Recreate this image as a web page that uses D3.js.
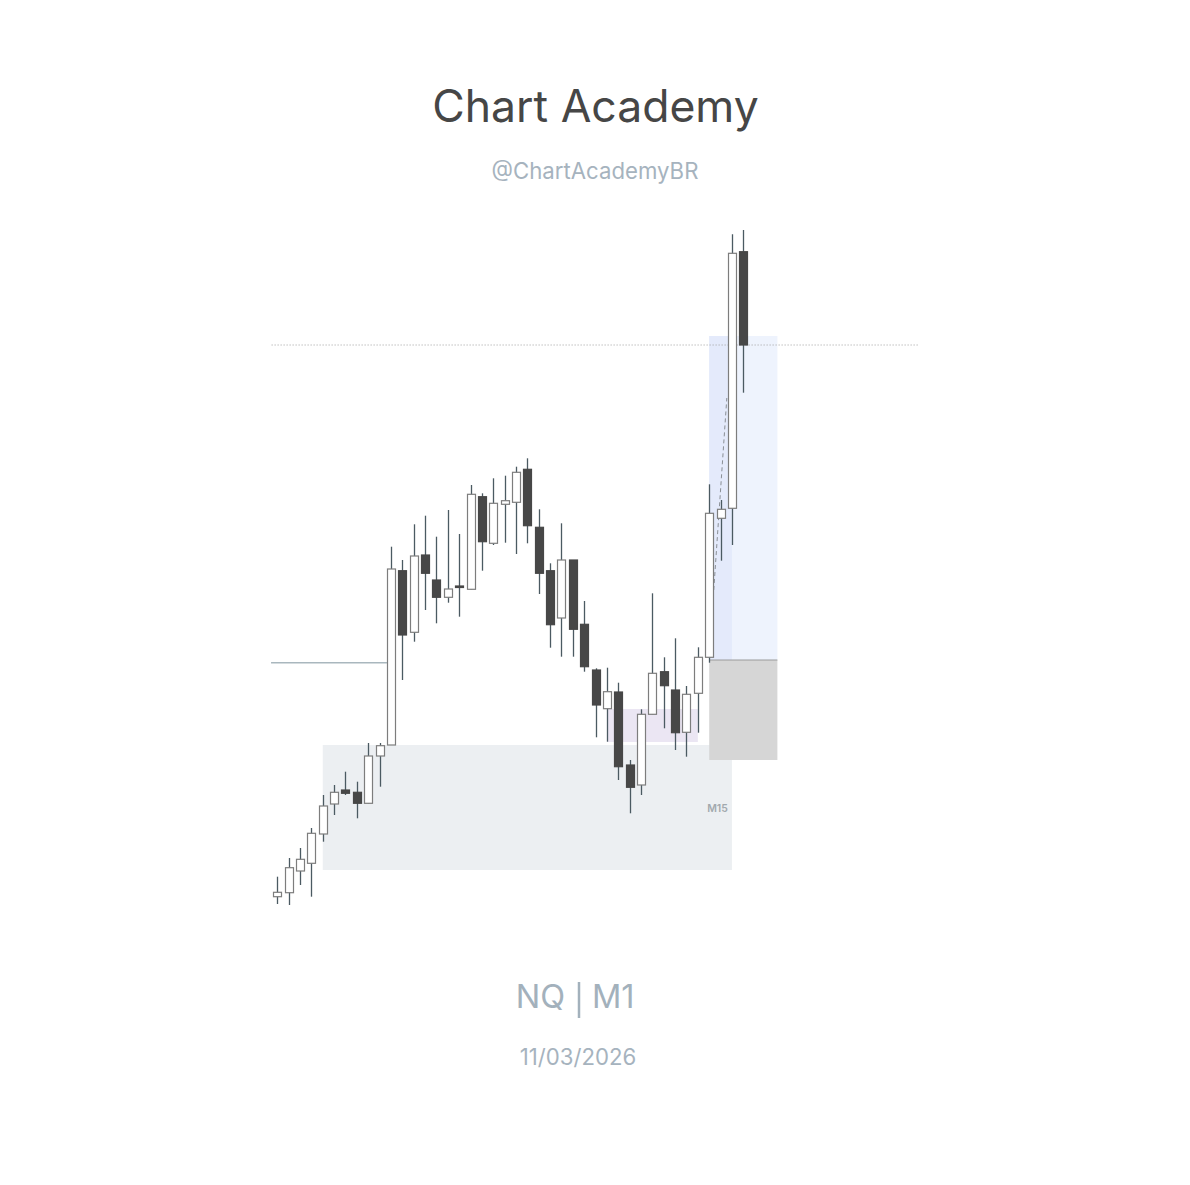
<!DOCTYPE html>
<html>
<head>
<meta charset="utf-8">
<script src="https://cdn.jsdelivr.net/npm/d3@7"></script>
<style>
  html, body { margin: 0; padding: 0; background: #ffffff; }
  svg { display: block; }
</style>
</head>
<body>
<svg id="chart" width="1190" height="1185"></svg>
<script>
// ---- DATA (price units, arbitrary scale) ----
const candleOpen  = [13.3,17.3,39,46.7,76,106,120,117.7,106.7,154,165,339.3,277.7,355,330,312.7,324,320.7,413.3,366.7,405.7,407.7,440.7,382.7,339.3,292,350,285.7,240,201.3,218,145,125,195.7,238.3,220,177.7,216.7,252.7,391.7,401.7,658.3];
const candleClose = [17.7,42.3,50.7,76.7,104,117.7,116.7,106.7,154,164.3,341,275,354,336.7,312.7,321,322.7,415.7,368.3,406.7,409.3,437.7,384.3,336.7,285.3,350,280.7,243.3,205,218.3,143.3,122.7,195.7,236.7,224.3,177.3,215.7,252.7,396.7,400.7,656.7,565];
const candleHigh  = [33.3,52,62,82,115,125,138.3,128.3,167,167,363.3,350,385.7,394.3,373.3,400,376,425,416.7,431.7,434.3,443.3,451.7,400.7,346.7,386.7,350,309,241.7,242.3,227.3,150,200.7,316.7,252.7,271.7,224,262.7,425.7,410,675.7,680];
const candleLow   = [6,5,25,13.3,68.3,95,115,91.7,106.7,123.3,165,230,268.3,300,286.7,307.3,293.3,320.7,339.3,365,367.3,356,366.7,316,262.3,253.3,253.3,238.3,172.7,168.3,130,96.7,115,195.7,181.7,160,153.3,177.3,247.3,349.3,365,517.3];

// zones: [fromIndex, toIndex, lowPrice, highPrice]
const zoneM15    = [4, 40, 40, 165];
const zonePurple = [29, 37, 168, 201];
const zoneBlue   = [38, 44, 250, 574];
const zoneBlueIn = [38, 40, 250, 574];
const zoneGrey   = [38, 44, 150, 250];
const dottedLevel = 565;
const solidLevel  = 247.3;
const dashedLine  = [[38.4, 320], [39.55, 512]];

const titleText = "Chart Academy";
const handleText = "@ChartAcademyBR";
const symbolText = "NQ";
const tfText = "M1";
const dateText = "11/03/2026";
const zoneLabel = "M15";

// ---- DRAW ----
const svg = d3.select("#chart");
const n = candleOpen.length;
const x = d3.scaleLinear().domain([0, n - 1]).range([277.3, 743.3]);
const y = d3.scaleLinear().domain([0, 700]).range([910, 210]);
const bodyW = 8;
const FONT = "Inter, 'Noto Sans', sans-serif";

function rectZone(z, fill) {
  svg.append("rect")
    .attr("x", x(z[0])).attr("y", y(z[3]))
    .attr("width", x(z[1]) - x(z[0]))
    .attr("height", y(z[2]) - y(z[3]))
    .attr("fill", fill);
}
rectZone(zoneM15, "#eceff2");
rectZone(zonePurple, "#ebe6f3");
rectZone(zoneBlue, "#eef3fd");
rectZone(zoneBlueIn, "#e4eafb");
rectZone(zoneGrey, "#d6d6d6");
svg.append("line")
  .attr("x1", x(zoneGrey[0])).attr("x2", x(zoneGrey[1]))
  .attr("y1", y(zoneGrey[3])).attr("y2", y(zoneGrey[3]))
  .attr("stroke", "#9a9a9a").attr("stroke-width", 1);

svg.append("text")
  .attr("x", x(zoneM15[1]) - 4).attr("y", 812)
  .attr("text-anchor", "end")
  .attr("font-family", FONT)
  .attr("font-size", 10.5).attr("font-weight", 600).attr("fill", "#a2a9ae")
  .text(zoneLabel);

// dotted level
svg.append("line")
  .attr("x1", x(-0.5)).attr("x2", x(56.5))
  .attr("y1", y(dottedLevel)).attr("y2", y(dottedLevel))
  .attr("stroke", "#a0a0a0").attr("stroke-width", 1)
  .attr("stroke-dasharray", "1,2");

// solid level
svg.append("line")
  .attr("x1", x(-0.55)).attr("x2", x(10) - bodyW / 2)
  .attr("y1", y(solidLevel)).attr("y2", y(solidLevel))
  .attr("stroke", "#a9b7be").attr("stroke-width", 1.5);

// dashed path
svg.append("line")
  .attr("x1", x(dashedLine[0][0])).attr("y1", y(dashedLine[0][1]))
  .attr("x2", x(dashedLine[1][0])).attr("y2", y(dashedLine[1][1]))
  .attr("stroke", "#8a8f95").attr("stroke-width", 1)
  .attr("stroke-dasharray", "4,3");

// candles
const idx = d3.range(n);
const g = svg.append("g");
g.selectAll("line.wick").data(idx).join("line")
  .attr("class", "wick")
  .attr("x1", i => Math.round(x(i)) + 0.5).attr("x2", i => Math.round(x(i)) + 0.5)
  .attr("y1", i => y(candleHigh[i])).attr("y2", i => y(candleLow[i]))
  .attr("stroke", "#4b5a62").attr("stroke-width", 1.3);
g.selectAll("rect.body").data(idx).join("rect")
  .attr("class", "body")
  .attr("x", i => Math.round(x(i)) + 0.5 - bodyW / 2)
  .attr("y", i => y(Math.max(candleOpen[i], candleClose[i])))
  .attr("width", bodyW)
  .attr("height", i => Math.max(1.5, Math.abs(y(candleOpen[i]) - y(candleClose[i]))))
  .attr("fill", i => candleClose[i] >= candleOpen[i] ? "#ffffff" : "#474747")
  .attr("stroke", i => candleClose[i] >= candleOpen[i] ? "#7d7d7d" : "#474747")
  .attr("stroke-width", 1.2);

// texts
svg.append("text")
  .attr("x", 595.5).attr("y", 122)
  .attr("text-anchor", "middle")
  .attr("font-family", FONT)
  .attr("font-size", 44.5).attr("fill", "#464646")
  .text(titleText);
svg.append("text")
  .attr("x", 595).attr("y", 179)
  .attr("text-anchor", "middle")
  .attr("font-family", FONT)
  .attr("font-size", 22.2).attr("fill", "#a6b3be")
  .text(handleText);
svg.append("text")
  .attr("x", 565).attr("y", 1008)
  .attr("text-anchor", "end")
  .attr("font-family", FONT)
  .attr("font-size", 32.5).attr("fill", "#a3b1bc")
  .text(symbolText);
svg.append("line")
  .attr("x1", 579).attr("x2", 579).attr("y1", 982).attr("y2", 1018)
  .attr("stroke", "#a3b1bc").attr("stroke-width", 2.5);
svg.append("text")
  .attr("x", 592).attr("y", 1008)
  .attr("text-anchor", "start")
  .attr("font-family", FONT)
  .attr("font-size", 32.5).attr("fill", "#a3b1bc")
  .text(tfText);
svg.append("text")
  .attr("x", 578).attr("y", 1065)
  .attr("text-anchor", "middle")
  .attr("font-family", FONT)
  .attr("font-size", 22.2).attr("fill", "#a6b3be")
  .text(dateText);
</script>
</body>
</html>
